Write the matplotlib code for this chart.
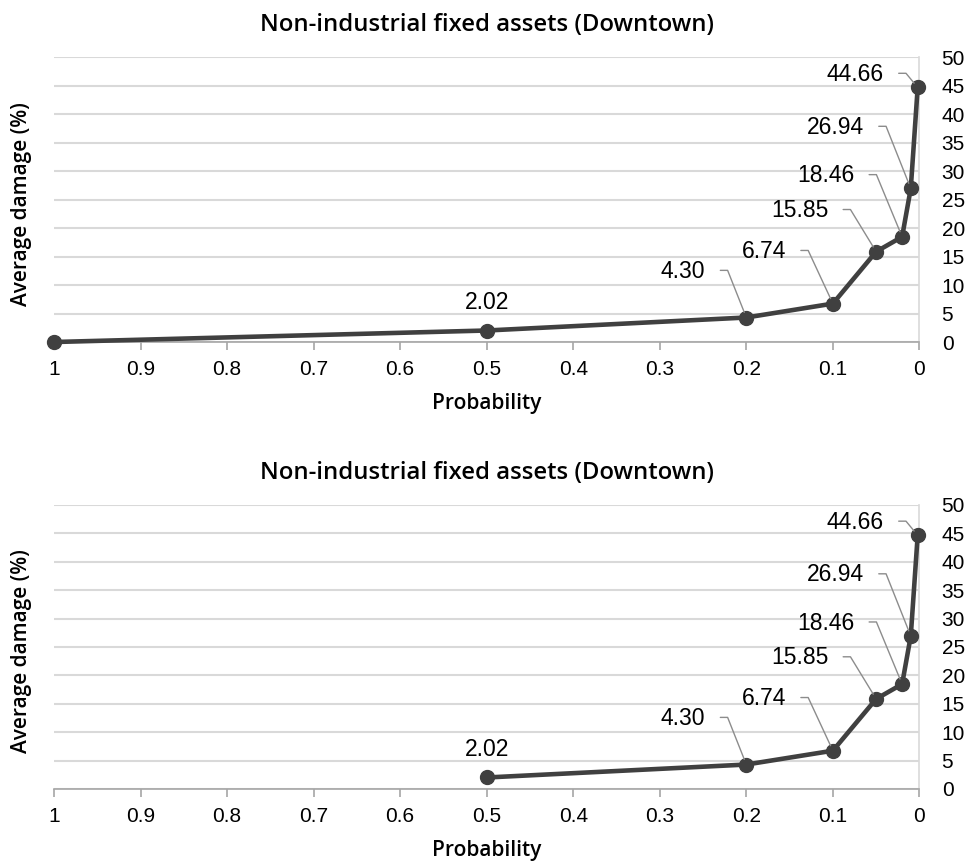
import matplotlib
matplotlib.use("Agg")
import matplotlib.pyplot as plt

# data
probability = [1, 0.5, 0.2, 0.1, 0.05, 0.02, 0.01, 0.002]
damage = [0.0, 2.02, 4.30, 6.74, 15.85, 18.46, 26.94, 44.66]
labels = ["", "2.02", "4.30", "6.74", "15.85", "18.46", "26.94", "44.66"]

x_ticks = [1, 0.9, 0.8, 0.7, 0.6, 0.5, 0.4, 0.3, 0.2, 0.1, 0]
x_ticklabels = ["1", "0.9", "0.8", "0.7", "0.6", "0.5", "0.4", "0.3", "0.2", "0.1", "0"]
y_ticks = list(range(0, 55, 5))

title = "Non-industrial fixed assets (Downtown)"

# label offsets in pixels (text right edge / centre relative to the point)
label_offsets = {
    "2.02": (0, 28),
    "4.30": (-41, 46),
    "6.74": (-47, 52),
    "15.85": (-48, 41),
    "18.46": (-48, 61),
    "26.94": (-47, 61),
    "44.66": (-34, 13),
}

TICK_FONT = "Liberation Sans"
LINE = "#404040"
GRID = "#d9d9d9"
LEAD = "#8c8c8c"

fig = plt.figure(figsize=(9.67, 8.65), dpi=100)
ax_top = fig.add_axes([0.0558, 0.6046, 0.895, 0.3295])
ax_bot = fig.add_axes([0.0558, 0.0879, 0.895, 0.3283])


def draw(ax, xs, ys, labs):
    ax.plot(xs, ys, color=LINE, lw=3.3, marker="o", ms=10, zorder=3,
            solid_capstyle="round", clip_on=False)
    px = 72 / fig.dpi
    for x, y, lab in zip(xs, ys, labs):
        if not lab:
            continue
        dx, dy = label_offsets[lab]
        if lab == "2.02":
            ax.annotate(lab, (x, y), xytext=(dx * px, dy * px), textcoords="offset points",
                        ha="center", va="center", fontsize=16.5,
                        family="Liberation Sans", color="black")
            continue
        ax.annotate(lab, (x, y), xytext=(dx * px, dy * px), textcoords="offset points",
                    ha="right", va="center", fontsize=16.5,
                    family="Liberation Sans", color="black",
                    arrowprops=dict(arrowstyle="-", color=LEAD, lw=1.0, patchA=None,
                                    relpos=(1, 0.55), shrinkA=15 * px, shrinkB=4,
                                    connectionstyle="arc,angleA=0,armA=%.1f,angleB=0,armB=0,rad=0" % (31 * px)))

    ax.set_xlim(1, 0)
    ax.set_ylim(0, 50)
    ax.set_xticks(x_ticks)
    ax.set_xticklabels(x_ticklabels)
    ax.set_yticks(y_ticks)
    ax.yaxis.tick_right()
    ax.tick_params(axis="y", length=0, pad=16, labelsize=15)
    ax.tick_params(axis="x", length=6, width=1.2, color="#a6a6a6", pad=7, labelsize=15,
                   direction="out")
    for t in ax.get_xticklabels() + ax.get_yticklabels():
        t.set_family(TICK_FONT)
    ax.grid(axis="y", color=GRID, lw=1.5)
    ax.set_axisbelow(True)
    for s in ["left", "top"]:
        ax.spines[s].set_visible(False)
    ax.spines["right"].set_color(GRID)
    ax.spines["right"].set_linewidth(1.2)
    ax.spines["bottom"].set_color("#a6a6a6")
    ax.spines["bottom"].set_linewidth(1.2)
    ax.set_title(title, family="Open Sans", weight="semibold", fontsize=17.2, pad=19)
    ax.set_xlabel("Probability", family="Open Sans", weight="semibold", fontsize=15, labelpad=10)
    ax.set_ylabel("Average damage (%)", family="Open Sans", weight="semibold", fontsize=15)
    ax.yaxis.set_label_position("left")
    ax.yaxis.set_label_coords(-0.0254, 0.484)


draw(ax_top, probability, damage, labels)
draw(ax_bot, probability[1:], damage[1:], labels[1:])

fig.savefig("out.png", dpi=100)
